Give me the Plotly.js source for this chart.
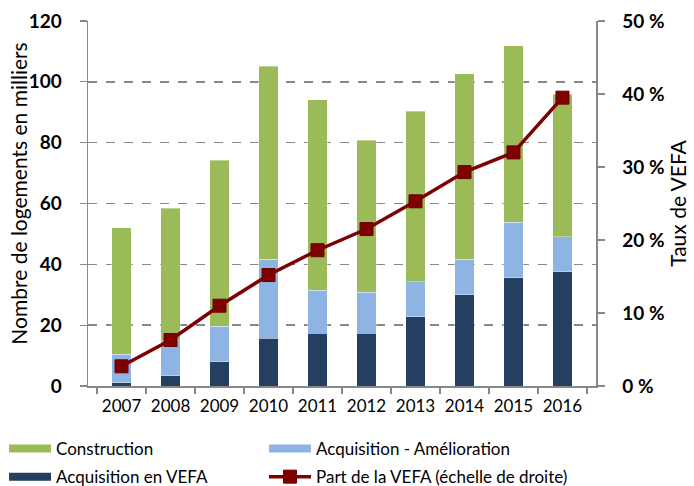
<!DOCTYPE html>
<html>
<head>
<meta charset="utf-8">
<script src="https://cdn.plot.ly/plotly-3.0.1.min.js"></script>
<style>html,body{margin:0;padding:0;background:#fff;}#chart{width:694px;height:486px;}</style>
</head>
<body>
<div id="chart"></div>
<script>
const years = ['2007','2008','2009','2010','2011','2012','2013','2014','2015','2016'];
const vefa = [1.1, 3.4, 8.0, 15.7, 17.3, 17.3, 22.8, 30.0, 35.6, 37.6];
const amelioration = [9.4, 11.5, 11.6, 25.9, 14.2, 13.6, 11.5, 11.6, 18.2, 11.4];
const construction = [41.6, 43.5, 54.6, 63.6, 62.6, 49.9, 56.0, 61.0, 58.0, 46.9];
const partVefa = [2.7, 6.3, 11.0, 15.2, 18.6, 21.5, 25.3, 29.3, 32.0, 39.5];
const leftTitle = 'Nombre de logements en milliers';
const rightTitle = 'Taux de VEFA';

const cGreen = '#9BBB59', cLight = '#8EB4E3', cDark = '#243F60', cRed = '#800000';
const FONT = 'Lato, "Open Sans", sans-serif';

const barLine = {color: 'rgba(255,255,255,0.6)', width: 0.6};
const traces = [
  {type:'bar', x: years, y: vefa, name:'Acquisition en VEFA', marker:{color:cDark, line:barLine}, showlegend:false},
  {type:'bar', x: years, y: amelioration, name:'Acquisition - Amélioration', marker:{color:cLight, line:barLine}, showlegend:false},
  {type:'bar', x: years, y: construction, name:'Construction', marker:{color:cGreen, line:barLine}, showlegend:false},
  {type:'scatter', mode:'lines', x:[null], y:[null], name:'Construction', legend:'legend', legendgroup:'a', line:{color:cGreen, width:8}},
  {type:'scatter', mode:'lines', x:[null], y:[null], name:'Acquisition en VEFA', legend:'legend', legendgroup:'b', line:{color:cDark, width:8}},
  {type:'scatter', mode:'lines', x:[null], y:[null], name:'Acquisition - Amélioration', legend:'legend2', legendgroup:'c', line:{color:cLight, width:8}},
  {type:'scatter', mode:'lines+markers', x: years, y: partVefa, yaxis:'y2', name:'Part de la VEFA (échelle de droite)',
    legend:'legend2', legendgroup:'d',
    line:{color:cRed, width:3.5}, marker:{symbol:'square', size:13, color:cRed, line:{color:'#6a0000', width:1}}}
];

const legBase = {orientation:'v', xref:'container', yref:'container', xanchor:'left', yanchor:'top',
  font:{size:17, family:FONT}, tracegroupgap:3, itemwidth:42, traceorder:'grouped', bgcolor:'rgba(0,0,0,0)'};

const layout = {
  width:694, height:486,
  margin:{l:88, r:98, t:21, b:100, autoexpand:false},
  paper_bgcolor:'#fff', plot_bgcolor:'#fff',
  font:{family:FONT, color:'#000'},
  barmode:'stack', bargap:0.6,
  showlegend:true,
  legend:Object.assign({}, legBase, {x:4/694, y:(486-431)/486}),
  legend2:Object.assign({}, legBase, {x:264/694, y:(486-431)/486}),
  xaxis:{type:'category', tickson:'boundaries', ticks:'outside', ticklen:6, tickcolor:'#888', tickwidth:1.3,
    showline:true, linecolor:'#888', linewidth:1.5, showgrid:false, tickfont:{size:17, family:FONT}, ticklabelstandoff:4},
  yaxis:{range:[0,120], dtick:20, ticks:'outside', ticklen:7, tickcolor:'#888', tickwidth:1.3,
    showline:true, linecolor:'#888', linewidth:1.5, gridcolor:'#888', griddash:'dash', gridwidth:1.5,
    zeroline:false, tickfont:{size:19, family:FONT, weight:'bold'}, ticklabelstandoff:14},
  yaxis2:{range:[0,50], dtick:10, overlaying:'y', side:'right', ticks:'outside', ticklen:7, tickcolor:'#888', tickwidth:1.3,
    showline:true, linecolor:'#888', linewidth:1.5, showgrid:false, zeroline:false, ticksuffix:' %',
    tickfont:{size:19, family:FONT, weight:'bold'}, ticklabelstandoff:14,
    title:{text:rightTitle, font:{size:21, family:FONT}, standoff:0}},
  annotations:[
    {text:leftTitle, xref:'paper', yref:'paper', x:-69/508, y:0.527, xanchor:'center', yanchor:'middle',
     textangle:-90, showarrow:false, font:{size:21, family:FONT, color:'#000'}}
  ]
};

Plotly.newPlot('chart', traces, layout, {displayModeBar:false, staticPlot:true});
</script>
</body>
</html>
